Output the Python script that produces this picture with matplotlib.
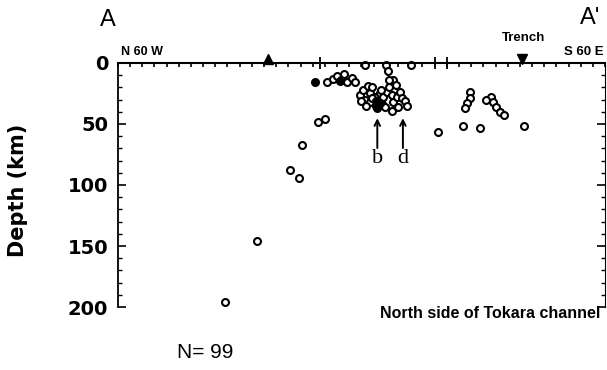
import numpy as np
import matplotlib.pyplot as plt

# hypocentres: distance along profile (km), depth (km)
dist_open = [88, 114, 141, 149, 151, 164, 170,
             172, 177, 180, 183, 186, 188, 192, 195,
             203, 220, 222, 241, 226,
             199, 201, 205, 207, 209, 203, 200, 207, 211, 214, 215, 218, 217,
             221, 223, 225, 226, 225, 229, 232, 233, 236, 237, 223, 228, 209,
             204, 212, 219, 230, 216,
             289, 289, 287, 285, 306, 308, 310, 314, 317, 302,
             263, 283, 297, 333]
depth_open = [196, 146, 88, 94, 67, 48, 46,
              16, 13, 11, 14, 9, 16, 12, 16,
              2, 2, 7, 2, 14,
              26, 22, 19, 25, 20, 30, 31, 32, 28, 32, 25, 28, 34,
              24, 20, 26, 32, 39, 28, 24, 29, 31, 35, 14, 18, 29,
              35, 35, 36, 36, 22,
              24, 29, 33, 37, 28, 32, 36, 40, 43, 30,
              57, 52, 53, 52]
dist_fill = [162, 213, 212, 215, 182]
depth_fill = [16, 37, 31, 33, 15]

volcano_x = 123
trench_x = 332
cross_x = [166, 260, 270]

fig = plt.figure(figsize=(6.07, 3.70), dpi=100)
ax = fig.add_axes([0.194, 0.170, 0.803, 0.660])
ax.set_xlim(0, 400)
ax.set_ylim(200, 0)

ax.plot(dist_open, depth_open, 'o', mfc='white', mec='black', ms=5, mew=1.5, clip_on=False)
ax.plot(dist_fill, depth_fill, 'o', mfc='black', mec='black', ms=5, mew=1.5, clip_on=False)

ax.spines['bottom'].set_visible(False)
ax.spines['top'].set_linewidth(1.5)
ax.spines['left'].set_linewidth(1.3)
ax.spines['right'].set_linewidth(0.8)

ax.set_yticks([0, 50, 100, 150, 200])
ax.set_yticks(np.arange(0, 201, 10), minor=True)
ax.set_xticks(np.arange(0, 401, 10))
ax.set_xticklabels([])
ax.tick_params(axis='y', which='major', direction='in', length=6, width=1.2,
               left=True, right=True, labelsize=14, pad=7)
ax.tick_params(axis='y', which='minor', direction='in', length=3, width=1,
               left=True, right=True)
ax.tick_params(axis='x', which='major', direction='in', length=3, width=1.2,
               top=True, bottom=False, labeltop=False, labelbottom=False)
for t in ax.get_yticklabels():
    t.set_fontweight('bold')
    t.set_family('DejaVu Sans')

fig.text(18 / 607, 1 - 190 / 370, 'Depth (km)', fontsize=15, fontweight='bold',
         family='DejaVu Sans', rotation=90, ha='center', va='center')

# markers on top of the profile
ax.plot([volcano_x], [-3.5], '^', color='black', ms=7, clip_on=False)
ax.plot([trench_x], [-3.5], 'v', color='black', ms=7, clip_on=False)
ax.plot(cross_x, [0] * len(cross_x), '+', color='black', ms=9, mew=1.3, clip_on=False)

sans = dict(family='Liberation Sans', fontweight='bold')
ax.text(-8, -35, 'A', fontsize=17, ha='center', va='center', family='Liberation Sans')
ax.text(388, -37, "A'", fontsize=17, ha='center', va='center', family='Liberation Sans')
ax.text(3, -9, 'N 60 W', fontsize=9, ha='left', va='center', **sans)
ax.text(333, -20, 'Trench', fontsize=9.5, ha='center', va='center', **sans)
ax.text(399, -9, 'S 60 E', fontsize=9.5, ha='right', va='center', **sans)

for x, lab in [(213, 'b'), (234, 'd')]:
    ax.annotate('', xy=(x, 43), xytext=(x, 72),
                arrowprops=dict(arrowstyle='->', color='black', lw=1.4))
    ax.text(x, 78, lab, fontsize=16, ha='center', va='center', family='Liberation Serif')

fig.text(490 / 607, 1 - 314 / 370, 'North side of Tokara channel', fontsize=11.5,
         ha='center', va='center', **sans)
fig.text(205 / 607, 1 - 352 / 370, 'N= 99', fontsize=15, ha='center', va='center',
         family='Liberation Sans')

plt.savefig('out.png', dpi=100)
